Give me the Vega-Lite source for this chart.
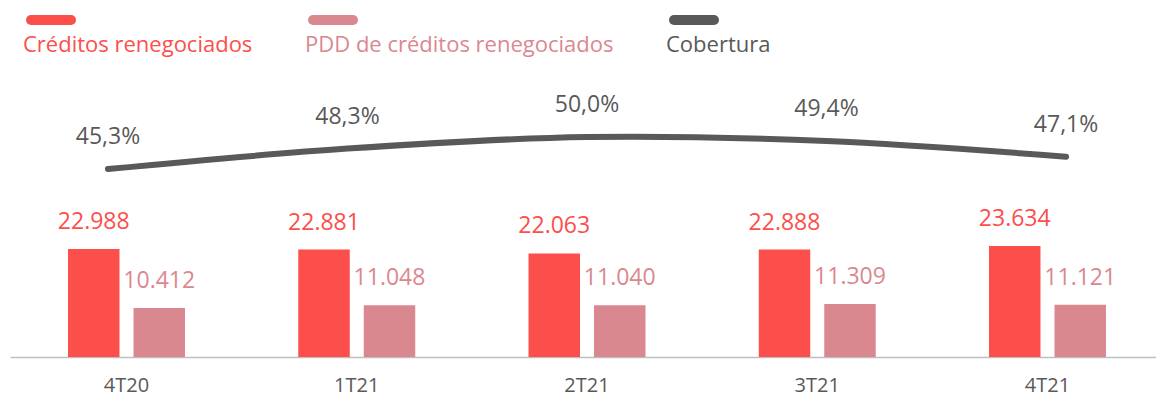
{
  "$schema": "https://vega.github.io/schema/vega-lite/v6.json",
  "width": 1154,
  "height": 277,
  "autosize": {"type": "none"},
  "padding": {"left": 10, "top": 80, "right": 0, "bottom": 43},
  "background": "white",
  "config": {
    "view": {"stroke": null},
    "font": "Open Sans",
    "locale": {"number": {"decimal": ",", "thousands": ".", "grouping": [3], "currency": ["R$ ", ""]}}
  },
  "datasets": {
    "barras": [
      {"trimestre": "4T20", "serie": "Créditos renegociados", "valor": 22988},
      {"trimestre": "4T20", "serie": "PDD de créditos renegociados", "valor": 10412},
      {"trimestre": "1T21", "serie": "Créditos renegociados", "valor": 22881},
      {"trimestre": "1T21", "serie": "PDD de créditos renegociados", "valor": 11048},
      {"trimestre": "2T21", "serie": "Créditos renegociados", "valor": 22063},
      {"trimestre": "2T21", "serie": "PDD de créditos renegociados", "valor": 11040},
      {"trimestre": "3T21", "serie": "Créditos renegociados", "valor": 22888},
      {"trimestre": "3T21", "serie": "PDD de créditos renegociados", "valor": 11309},
      {"trimestre": "4T21", "serie": "Créditos renegociados", "valor": 23634},
      {"trimestre": "4T21", "serie": "PDD de créditos renegociados", "valor": 11121}
    ],
    "cobertura": [
      {"trimestre": "4T20", "cobertura": 0.453},
      {"trimestre": "1T21", "cobertura": 0.483},
      {"trimestre": "2T21", "cobertura": 0.500},
      {"trimestre": "3T21", "cobertura": 0.494},
      {"trimestre": "4T21", "cobertura": 0.471}
    ]
  },
  "layer": [
    {
      "data": {"name": "barras"},
      "encoding": {
        "x": {
          "field": "trimestre", "type": "nominal",
          "sort": ["4T20", "1T21", "2T21", "3T21", "4T21"],
          "scale": {"paddingInner": 0.492, "paddingOuter": 0.252},
          "axis": {
            "title": null, "labelAngle": 0, "ticks": false,
            "domainColor": "#BFBFBF", "domainWidth": 1.5,
            "labelFontSize": 20, "labelColor": "#595959", "labelPadding": 18,
            "labelFont": "Open Sans"
          }
        },
        "xOffset": {
          "field": "serie", "type": "nominal",
          "sort": ["Créditos renegociados", "PDD de créditos renegociados"],
          "scale": {"paddingInner": 0.214, "paddingOuter": 0}
        },
        "y": {
          "field": "valor", "type": "quantitative",
          "scale": {"domain": [0, 59000], "nice": false},
          "axis": null
        },
        "color": {
          "field": "serie", "type": "nominal",
          "scale": {
            "domain": ["Créditos renegociados", "PDD de créditos renegociados", "Cobertura"],
            "range": ["#FC4F4C", "#DA8890", "#595959"]
          },
          "legend": {
            "title": null,
            "orient": "none",
            "direction": "horizontal",
            "legendX": 16,
            "legendY": -85,
            "symbolType": "stroke",
            "symbolSize": 1600,
            "symbolStrokeWidth": 10,
            "labelFontSize": 22,
            "labelFont": "Open Sans",
            "labelLimit": 500,
            "labelOffset": -53,
            "columnPadding": 40,
            "encode": {
              "symbols": {"update": {"strokeCap": {"value": "round"}, "stroke": {"scale": "color", "field": "value"}, "opacity": {"value": 1}}},
              "labels": {"update": {"fill": {"scale": "color", "field": "value"}, "dy": {"value": 25}}}
            }
          }
        }
      },
      "layer": [
        {"mark": {"type": "bar"}},
        {
          "mark": {"type": "text", "baseline": "middle", "dy": -27, "fontSize": 23, "font": "Open Sans"},
          "encoding": {"text": {"field": "valor", "type": "quantitative", "format": ",d"}}
        }
      ]
    },
    {
      "data": {"name": "cobertura"},
      "encoding": {
        "x": {
          "field": "trimestre", "type": "ordinal",
          "sort": ["4T20", "1T21", "2T21", "3T21", "4T21"],
          "scale": {"type": "point", "padding": 0.409},
          "axis": null
        },
        "y": {
          "field": "cobertura", "type": "quantitative",
          "scale": {"domain": [0.1769, 0.5837], "nice": false, "zero": false},
          "axis": null
        }
      },
      "layer": [
        {"mark": {"type": "line", "color": "#595959", "strokeWidth": 6, "strokeCap": "round", "interpolate": "catmull-rom"}},
        {
          "mark": {"type": "text", "baseline": "middle", "dy": -32, "fontSize": 23, "font": "Open Sans", "color": "#595959"},
          "encoding": {"text": {"field": "cobertura", "type": "quantitative", "format": ".1%"}}
        }
      ]
    }
  ],
  "resolve": {"scale": {"x": "independent", "y": "independent"}}
}
